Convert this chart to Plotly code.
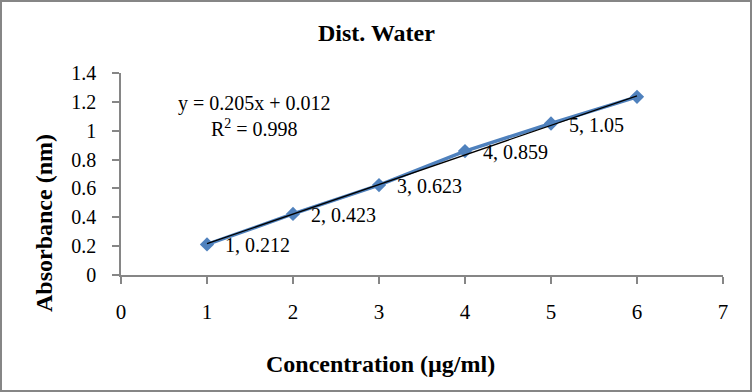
import plotly.graph_objects as go

# ---- data ----
concentration = [1, 2, 3, 4, 5, 6]
absorbance = [0.212, 0.423, 0.623, 0.859, 1.05, 1.235]
label_points = 5  # data labels shown for the first five points
slope = 0.205
intercept = 0.012
r_squared = 0.998
y_tickvals = [0, 0.2, 0.4, 0.6, 0.8, 1.0, 1.2, 1.4]
y_ticktext = ["0", "0.2", "0.4", "0.6", "0.8", "1", "1.2", "1.4"]
x_tickvals = [0, 1, 2, 3, 4, 5, 6, 7]

title_text = "Dist. Water"
x_title = "Concentration (µg/ml)"
y_title = "Absorbance (nm)"

# ---- layout geometry ----
W, H = 752, 392
L, R, T, B = 121, 29, 73, 117
PW, PH = W - L - R, H - T - B
FONT = "Liberation Serif, Times New Roman, serif"
AXIS_COLOR = "#868686"
BLUE = "#4F81BD"


def px_x(px):
    return (px - L) / PW


def px_y(py):
    return (H - B - py) / PH


trend_x = [concentration[0], concentration[-1]]
trend_y = [slope * v + intercept for v in trend_x]

fig = go.Figure()
fig.add_trace(go.Scatter(
    x=concentration, y=absorbance, mode="lines+markers",
    line=dict(color=BLUE, width=3.5),
    marker=dict(symbol="diamond", size=11, color=BLUE),
    showlegend=False, hoverinfo="skip",
))
fig.add_trace(go.Scatter(
    x=trend_x, y=trend_y, mode="lines",
    line=dict(color="black", width=1.3),
    showlegend=False, hoverinfo="skip",
))

annotations = []
for cx, cy in zip(concentration[:label_points], absorbance[:label_points]):
    annotations.append(dict(
        x=cx, y=cy, xref="x", yref="y",
        text=f"{cx}, {cy:g}", showarrow=False,
        xanchor="left", yanchor="middle", xshift=16, yshift=-1,
        font=dict(family=FONT, size=20, color="black"),
    ))

annotations.append(dict(
    x=px_x(254), y=px_y(116), xref="paper", yref="paper",
    text=f"y = {slope}x + {intercept}<br>R<sup>2</sup> = {r_squared}",
    showarrow=False, xanchor="center", yanchor="middle", align="center",
    font=dict(family=FONT, size=20, color="black"),
))
annotations.append(dict(
    x=px_x(376), y=px_y(33), xref="paper", yref="paper",
    text=f"<b>{title_text}</b>", showarrow=False,
    xanchor="center", yanchor="middle",
    font=dict(family=FONT, size=24, color="black"),
))
annotations.append(dict(
    x=px_x(380), y=px_y(364), xref="paper", yref="paper",
    text=f"<b>{x_title}</b>", showarrow=False,
    xanchor="center", yanchor="middle",
    font=dict(family=FONT, size=24, color="black"),
))
annotations.append(dict(
    x=px_x(44), y=px_y(223), xref="paper", yref="paper",
    text=f"<b>{y_title}</b>", showarrow=False, textangle=-90,
    xanchor="center", yanchor="middle",
    font=dict(family=FONT, size=24, color="black"),
))

fig.update_layout(
    width=W, height=H,
    margin=dict(l=L, r=R, t=T, b=B, pad=0),
    paper_bgcolor="white", plot_bgcolor="white",
    font=dict(family=FONT, size=20, color="black"),
    annotations=annotations,
    shapes=[dict(
        type="rect", xref="paper", yref="paper",
        x0=px_x(1), x1=px_x(751), y0=px_y(391), y1=px_y(1),
        line=dict(color=AXIS_COLOR, width=2),
    )],
    xaxis=dict(
        range=[0, 7], tickvals=x_tickvals, showgrid=False, zeroline=False,
        showline=True, linecolor=AXIS_COLOR, linewidth=1.5,
        ticks="outside", ticklen=7, tickcolor=AXIS_COLOR, tickwidth=1.5,
        ticklabelstandoff=10,
        tickfont=dict(family=FONT, size=21, color="black"),
    ),
    yaxis=dict(
        range=[0, 1.4], tickvals=y_tickvals, ticktext=y_ticktext,
        showgrid=False, zeroline=False,
        showline=True, linecolor=AXIS_COLOR, linewidth=1.5,
        ticks="outside", ticklen=7, tickcolor=AXIS_COLOR, tickwidth=1.5,
        ticklabelstandoff=12,
        tickfont=dict(family=FONT, size=20, color="black"),
    ),
)

fig.write_html(
    "out.html",
    config={"displayModeBar": False},
    post_script="document.body.style.margin='0';document.body.style.overflow='hidden';",
)
